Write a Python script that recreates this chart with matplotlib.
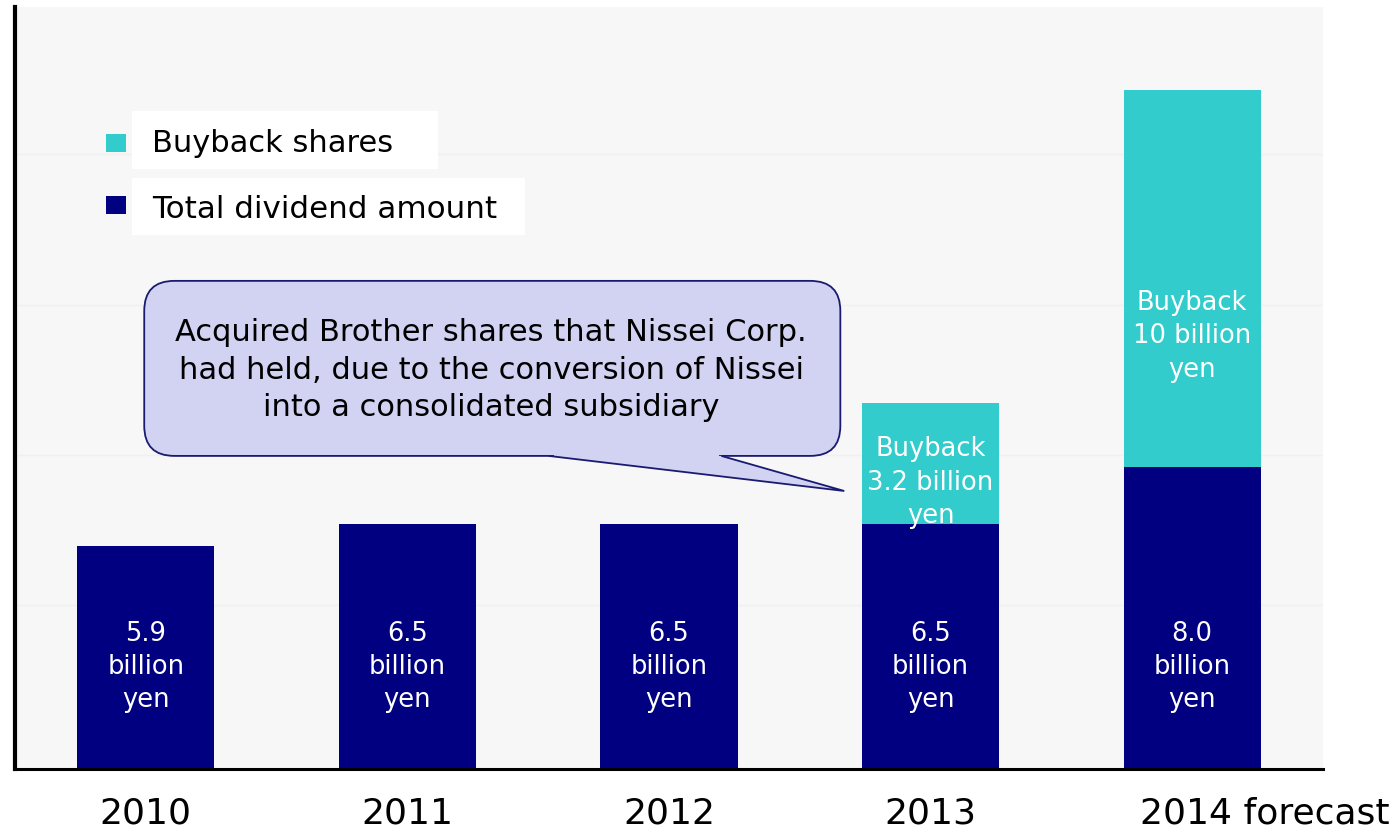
import numpy as np
import matplotlib
matplotlib.use("Agg")
import matplotlib.pyplot as plt
from matplotlib.patches import FancyBboxPatch, Polygon, Rectangle
from matplotlib.transforms import ScaledTranslation

plt.rcParams['font.family'] = ['DejaVu Sans']

years = ['2010', '2011', '2012', '2013', '2014 forecast']
dividend = [5.9, 6.5, 6.5, 6.5, 8.0]
buyback = [0, 0, 0, 3.2, 10]
div_labels = ['5.9\nbillion\nyen', '6.5\nbillion\nyen', '6.5\nbillion\nyen',
              '6.5\nbillion\nyen', '8.0\nbillion\nyen']
buy_labels = ['', '', '', 'Buyback\n3.2 billion\nyen', 'Buyback\n10 billion\nyen']
legend_names = ['Buyback shares', 'Total dividend amount']
note = ('Acquired Brother shares that Nissei Corp.\n'
        'had held, due to the conversion of Nissei\n'
        'into a consolidated subsidiary')

navy = '#000080'
cyan = '#33cccc'

fig = plt.figure(figsize=(13.95, 8.29), dpi=100)
ax = fig.add_axes([15/1395, 59/829, 1308/1395, 762/829])
ax.set_facecolor('#f7f7f7')

x = np.arange(len(years))
w = 0.525
ax.bar(x, dividend, w, color=navy, zorder=2)
ax.bar(x, buyback, w, bottom=dividend, color=cyan, zorder=2)

for i in range(len(years)):
    ax.text(x[i], 2.73, div_labels[i], ha='center', va='center', color='white',
            fontsize=18.5, linespacing=1.37, zorder=3)
    if buyback[i] > 0:
        ax.text(x[i], dividend[i] + 0.35 * buyback[i], buy_labels[i], ha='center',
                va='center', color='white', fontsize=18.5, linespacing=1.37, zorder=3)

ax.set_xlim(-0.5, 4.5)
ax.set_ylim(0, 20.2)
ax.set_yticks([4.35, 8.33, 12.3, 16.3])
ax.yaxis.grid(True, color='#f0f0f0', lw=1, zorder=0)
ax.set_yticklabels([])
ax.tick_params(axis='y', length=0)
ax.set_xticks(x)
ax.set_xticklabels(years, fontsize=26)
ax.tick_params(axis='x', length=0, pad=19)
last = ax.get_xticklabels()[-1]
last.set_transform(last.get_transform() + ScaledTranslation(0.73, 0, fig.dpi_scale_trans))

for s in ['top', 'right']:
    ax.spines[s].set_visible(False)
ax.spines['left'].set_linewidth(3)
ax.spines['bottom'].set_linewidth(2.2)

# legend
ax.add_patch(Rectangle((0.0894, 0.787), 0.234, 0.0765, transform=ax.transAxes,
                       facecolor='white', edgecolor='none', zorder=3))
ax.add_patch(Rectangle((0.0894, 0.7008), 0.3005, 0.0748, transform=ax.transAxes,
                       facecolor='white', edgecolor='none', zorder=3))
ax.add_patch(Rectangle((0.0696, 0.8097), 0.0153, 0.0236, transform=ax.transAxes,
                       facecolor=cyan, edgecolor='none', zorder=3))
ax.add_patch(Rectangle((0.0696, 0.7283), 0.0153, 0.0236, transform=ax.transAxes,
                       facecolor=navy, edgecolor='none', zorder=3))
ax.text(0.1047, 0.8228, legend_names[0], transform=ax.transAxes, fontsize=22,
        va='center', zorder=4)
ax.text(0.1047, 0.7362, legend_names[1], transform=ax.transAxes, fontsize=22.3,
        va='center', zorder=4)

# callout
fill = '#d2d2f2'
edge = '#1a1a70'
box = FancyBboxPatch((-0.006, 8.30), 2.661, 4.64,
                     boxstyle='round,pad=0,rounding_size=0.115',
                     mutation_aspect=6.95, facecolor=fill, edgecolor=edge,
                     lw=1.3, zorder=5)
ax.add_patch(box)
ax.add_patch(Rectangle((1.56, 8.28), 0.63, 0.09, facecolor=fill, edgecolor='none', zorder=5.5))
tail = Polygon([(1.54, 8.30), (2.67, 7.37), (2.20, 8.30)], closed=False,
               facecolor=fill, edgecolor=edge, lw=1.3, zorder=6)
ax.add_patch(tail)
ax.text(1.32, 10.6, note, ha='center', va='center', fontsize=22,
        linespacing=1.38, zorder=8)

fig.savefig('out.png', dpi=100)
